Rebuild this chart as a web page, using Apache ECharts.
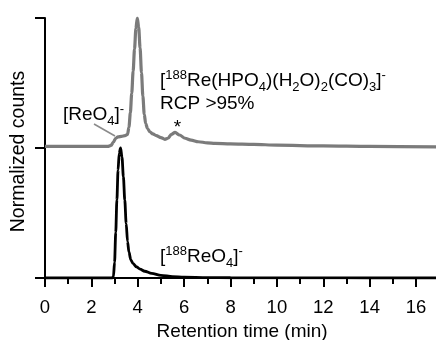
<!DOCTYPE html>
<html><head><meta charset="utf-8">
<script src="https://cdn.jsdelivr.net/npm/echarts@6/dist/echarts.min.js"></script>
<style>html,body{margin:0;padding:0;background:#fff}#c{width:436px;height:340px}</style>
</head><body><div id="c"></div>
<script>
// Gray trace: [188Re(HPO4)(H2O)2(CO)3]- (offset by +1 in normalized counts)
const grayTime = [0, 2.7, 2.85, 2.95, 3.05, 3.15, 3.3, 3.45, 3.56, 3.62, 3.68, 3.74, 3.80, 3.86, 3.92, 3.98, 4.04, 4.10, 4.16, 4.22, 4.28, 4.34, 4.42, 4.52, 4.65, 4.8, 5.0, 5.17, 5.3, 5.45, 5.61, 5.8, 6.04, 6.3, 6.61, 7.0, 7.33, 8, 9, 10, 12, 14, 16.9];
const grayCounts = [1.012, 1.012, 1.02, 1.045, 1.075, 1.085, 1.09, 1.095, 1.105, 1.16, 1.27, 1.42, 1.59, 1.76, 1.92, 2.0, 1.93, 1.77, 1.58, 1.40, 1.26, 1.19, 1.15, 1.125, 1.108, 1.095, 1.08, 1.067, 1.075, 1.105, 1.12, 1.10, 1.075, 1.06, 1.048, 1.04, 1.036, 1.032, 1.028, 1.022, 1.016, 1.012, 1.008];
// Black trace: [188ReO4]-
const blackTime = [0, 2.9, 2.95, 3.0, 3.05, 3.1, 3.15, 3.2, 3.26, 3.32, 3.38, 3.44, 3.5, 3.56, 3.62, 3.7, 3.8, 3.95, 4.1, 4.3, 4.6, 5.0, 5.5, 6.0, 7.0, 8.0, 10.0, 12, 14, 16.9];
const blackCounts = [0, 0, 0.01, 0.12, 0.35, 0.6, 0.83, 0.96, 1.0, 0.93, 0.78, 0.6, 0.42, 0.28, 0.2, 0.14, 0.11, 0.085, 0.068, 0.052, 0.035, 0.02, 0.011, 0.006, 0.003, 0.002, 0.001, 0.001, 0, 0];

const xMin = 0, xMax = 17, xMajor = 2, xMinor = 1;
const yMin = 0, yMax = 2, yStep = 1;
const xTitle = 'Retention time (min)';
const yTitle = 'Normalized counts';

const FONT = "'Liberation Sans', Arial, Helvetica, sans-serif";
const rich = {
  n: {fontSize: 19, fontFamily: FONT, color: '#000', lineHeight: 25, verticalAlign: 'middle'},
  sup: {fontSize: 13, fontFamily: FONT, color: '#000', lineHeight: 13, verticalAlign: 'top'},
  sub: {fontSize: 13, fontFamily: FONT, color: '#000', lineHeight: 13, verticalAlign: 'bottom'}
};

const zip = (a, b) => a.map((v, i) => [v, b[i]]);
const chart = echarts.init(document.getElementById('c'), null, {renderer: 'canvas'});
const W = (xMax - xMin) * 23.19;
chart.setOption({
  animation: false,
  backgroundColor: '#fff',
  grid: {left: 45, top: 18, width: W, height: 260, containLabel: false, outerBoundsMode: 'none'},
  xAxis: [{
    type: 'value', min: xMin, max: xMax, interval: xMajor,
    name: xTitle, nameLocation: 'middle', nameGap: 42,
    nameTextStyle: {fontSize: 19, fontFamily: FONT, color: '#000'},
    axisLine: {show: true, onZero: false, lineStyle: {color: '#000', width: 2}},
    axisTick: {show: true, length: 9, lineStyle: {color: '#000', width: 2}},
    axisLabel: {fontSize: 18.5, fontFamily: FONT, color: '#000', margin: 20, showMaxLabel: false},
    splitLine: {show: false}
  }, {
    type: 'value', min: xMin, max: xMax, interval: xMinor, position: 'bottom', gridIndex: 0,
    axisLine: {show: false},
    axisTick: {show: true, length: 6, lineStyle: {color: '#000', width: 2}},
    axisLabel: {show: false},
    splitLine: {show: false}
  }],
  yAxis: {
    type: 'value', min: yMin, max: yMax, interval: yStep,
    axisLine: {show: true, lineStyle: {color: '#000', width: 2}},
    axisTick: {show: true, length: 10, lineStyle: {color: '#000', width: 2}},
    axisLabel: {show: false},
    splitLine: {show: false}
  },
  series: [{
    type: 'line', data: zip(blackTime, blackCounts), showSymbol: false,
    smooth: 0.3, smoothMonotone: 'x',
    lineStyle: {color: '#000', width: 2.8}, z: 3
  }, {
    type: 'line', data: zip(grayTime, grayCounts), showSymbol: false,
    smooth: 0.3, smoothMonotone: 'x',
    lineStyle: {color: '#7b7b7b', width: 3.2}, z: 4
  }],
  graphic: [
    {type: 'text', x: 19, y: 151.5, rotation: Math.PI / 2, style: {text: yTitle, font: '19.5px ' + FONT, fill: '#000', align: 'center', verticalAlign: 'middle'}, z: 10},
    {type: 'line', shape: {x1: 94, y1: 124, x2: 115, y2: 136}, style: {stroke: '#8a8a8a', lineWidth: 1.5}, z: 10},
    {type: 'text', x: 63, y: 115, style: {text: '{n|[ReO}{sub|4}{n|]}{sup|-}', rich: rich, align: 'left', verticalAlign: 'middle'}, z: 10},
    {type: 'text', x: 160, y: 81, style: {text: '{n|[}{sup|188}{n|Re(HPO}{sub|4}{n|)(H}{sub|2}{n|O)}{sub|2}{n|(CO)}{sub|3}{n|]}{sup|-}', rich: rich, align: 'left', verticalAlign: 'middle'}, z: 10},
    {type: 'text', x: 160, y: 104, style: {text: 'RCP >95%', font: '19px ' + FONT, fill: '#000', align: 'left', verticalAlign: 'middle'}, z: 10},
    {type: 'text', x: 177.5, y: 128, style: {text: '*', font: '19px ' + FONT, fill: '#000', align: 'center', verticalAlign: 'middle'}, z: 10},
    {type: 'text', x: 160, y: 257, style: {text: '{n|[}{sup|188}{n|ReO}{sub|4}{n|]}{sup|-}', rich: rich, align: 'left', verticalAlign: 'middle'}, z: 10}
  ]
});
</script>
</body></html>
